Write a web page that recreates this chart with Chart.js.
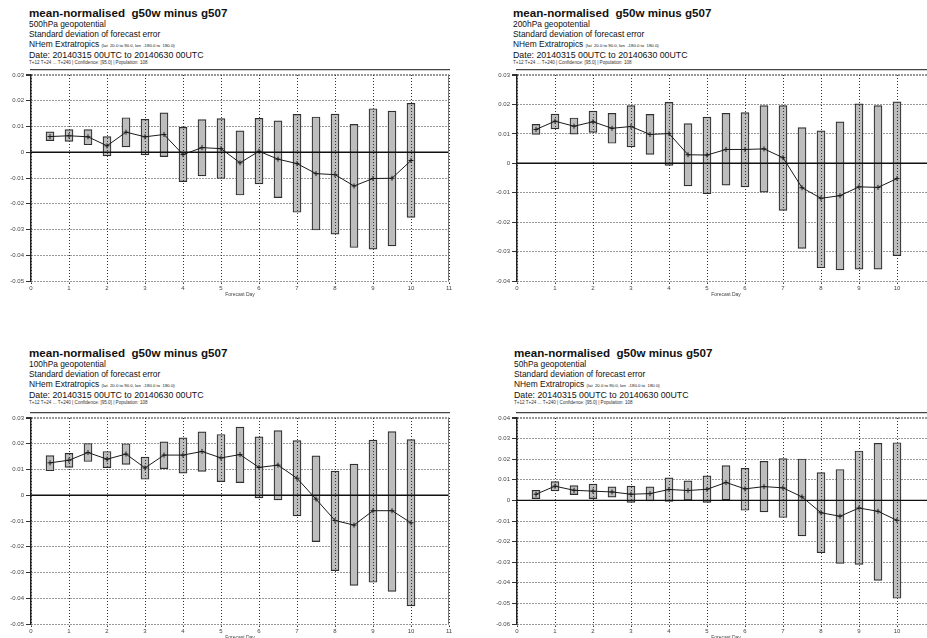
<!DOCTYPE html>
<html>
<head>
<meta charset="utf-8">
<script src="https://cdn.jsdelivr.net/npm/chart.js@4/dist/chart.umd.min.js"></script>
<style>
  html, body { margin: 0; padding: 0; background: #fff; width: 927px; height: 638px; overflow: hidden; }
  canvas { position: absolute; }
  .hdr { position: absolute; font-family: "Liberation Sans", Arial, sans-serif; color: #111; white-space: nowrap; }
  .hdr div { position: absolute; left: 0; white-space: nowrap; }
  .t1 { font-weight: bold; font-size: 11.6px; line-height: 14px; top: 6px; }
  .t2 { font-size: 8.4px; line-height: 10px; top: 19px; }
  .t3 { font-size: 8.4px; line-height: 10px; top: 29px; }
  .t4 { font-size: 8.4px; line-height: 10px; top: 39px; }
  .t4 small { font-size: 4.3px; }
  .t5 { font-size: 8.8px; line-height: 10px; top: 50px; }
  .t6 { font-size: 4.6px; line-height: 6px; top: 59.5px; color: #333; }
</style>
</head>
<body>

<script>
// Forecast day of each verification time (T+12 ... T+240)
const days = [0.5, 1, 1.5, 2, 2.5, 3, 3.5, 4, 4.5, 5, 5.5, 6, 6.5, 7, 7.5, 8, 8.5, 9, 9.5, 10];

// 500hPa geopotential: confidence interval bounds and mean normalised difference
const upper500 = [0.0079, 0.0088, 0.0088, 0.0061, 0.0134, 0.0128, 0.0153, 0.0097, 0.0127, 0.0131, 0.0083, 0.0132, 0.0122, 0.0147, 0.0137, 0.0148, 0.0108, 0.0169, 0.0160, 0.0190];
const lower500 = [0.0045, 0.0042, 0.0029, -0.0014, 0.0021, -0.0010, -0.0017, -0.0114, -0.0092, -0.0102, -0.0166, -0.0123, -0.0176, -0.0233, -0.0302, -0.0318, -0.0370, -0.0376, -0.0364, -0.0253];
const mean500  = [0.0061, 0.0064, 0.0060, 0.0025, 0.0078, 0.0060, 0.0069, -0.0009, 0.0018, 0.0014, -0.0041, 0.0004, -0.0027, -0.0044, -0.0083, -0.0087, -0.0131, -0.0102, -0.0101, -0.0032];

// 200hPa geopotential
const upper200 = [0.0132, 0.0167, 0.0154, 0.0177, 0.0170, 0.0196, 0.0166, 0.0207, 0.0135, 0.0157, 0.0170, 0.0172, 0.0196, 0.0196, 0.0121, 0.0110, 0.0141, 0.0202, 0.0196, 0.0209];
const lower200 = [0.0098, 0.0117, 0.0099, 0.0105, 0.0068, 0.0056, 0.0030, -0.0007, -0.0077, -0.0103, -0.0074, -0.0080, -0.0098, -0.0160, -0.0289, -0.0355, -0.0362, -0.0360, -0.0360, -0.0314];
const mean200  = [0.0115, 0.0143, 0.0126, 0.0141, 0.0119, 0.0125, 0.0098, 0.0101, 0.0029, 0.0028, 0.0047, 0.0047, 0.0049, 0.0019, -0.0083, -0.0119, -0.0110, -0.0080, -0.0082, -0.0052];

// 100hPa geopotential
const upper100 = [0.0154, 0.0163, 0.0201, 0.0170, 0.0200, 0.0148, 0.0207, 0.0223, 0.0246, 0.0236, 0.0265, 0.0227, 0.0251, 0.0212, 0.0153, 0.0094, 0.0121, 0.0214, 0.0247, 0.0216];
const lower100 = [0.0095, 0.0108, 0.0131, 0.0107, 0.0120, 0.0062, 0.0103, 0.0086, 0.0093, 0.0053, 0.0049, -0.0010, -0.0018, -0.0080, -0.0180, -0.0293, -0.0350, -0.0338, -0.0373, -0.0430];
const mean100  = [0.0126, 0.0136, 0.0166, 0.0140, 0.0160, 0.0106, 0.0156, 0.0156, 0.0170, 0.0145, 0.0158, 0.0108, 0.0117, 0.0066, -0.0015, -0.0098, -0.0116, -0.0060, -0.0060, -0.0107];

// 50hPa geopotential
const upper50 = [0.0049, 0.0091, 0.0072, 0.0079, 0.0066, 0.0069, 0.0066, 0.0109, 0.0095, 0.0119, 0.0169, 0.0156, 0.0190, 0.0203, 0.0201, 0.0135, 0.0150, 0.0240, 0.0277, 0.0280];
const lower50 = [0.0009, 0.0046, 0.0028, 0.0009, 0.0016, -0.0010, -0.0002, -0.0005, 0.0001, -0.0010, 0.0003, -0.0048, -0.0056, -0.0083, -0.0172, -0.0254, -0.0306, -0.0311, -0.0388, -0.0475];
const mean50  = [0.0030, 0.0069, 0.0049, 0.0045, 0.0041, 0.0030, 0.0033, 0.0053, 0.0048, 0.0054, 0.0087, 0.0056, 0.0067, 0.0061, 0.0017, -0.0060, -0.0077, -0.0037, -0.0053, -0.0097];

// Header text shared by every panel
const titleText = 'mean-normalised\u00a0\u00a0g50w minus g507';
const scoreText = 'Standard deviation of forecast error';
const areaText = 'NHem Extratropics';
const areaDetail = '(lat\u00a0\u00a020.0 to 90.0, lon\u00a0\u00a0-180.0 to\u00a0\u00a0180.0)';
const dateText = 'Date: 20140315 00UTC to 20140630 00UTC';
const stepsText = 'T+12 T+24 ... T+240 | Confidence: [95.0] | Population: 108';
const xTitle = 'Forecast Day';

const panels = [
  { level: '500hPa geopotential', upper: upper500, lower: lower500, mean: mean500, yMin: -0.05, yMax: 0.03, hx: 29,  hy: 0,   cx: 0,   cy: 69 },
  { level: '200hPa geopotential', upper: upper200, lower: lower200, mean: mean200, yMin: -0.04, yMax: 0.03, hx: 513, hy: 0,   cx: 486, cy: 69 },
  { level: '100hPa geopotential', upper: upper100, lower: lower100, mean: mean100, yMin: -0.05, yMax: 0.03, hx: 29,  hy: 340, cx: 0,   cy: 412 },
  { level: '50hPa geopotential',  upper: upper50,  lower: lower50,  mean: mean50,  yMin: -0.06, yMax: 0.04, hx: 514, hy: 340, cx: 486, cy: 412 }
];

// Solid zero reference line above the boxes, plus a thin solid right frame edge
const frameLines = {
  id: 'frameLines',
  afterDatasetsDraw(chart) {
    const { ctx, chartArea, scales } = chart;
    const y = scales.y.getPixelForValue(0);
    ctx.save();
    ctx.strokeStyle = '#111';
    ctx.lineWidth = 1.4;
    ctx.beginPath();
    ctx.moveTo(chartArea.left, y);
    ctx.lineTo(chartArea.right, y);
    ctx.stroke();
    ctx.strokeStyle = '#777';
    ctx.lineWidth = 1;
    ctx.beginPath();
    ctx.moveTo(chartArea.right - 0.5, chartArea.top);
    ctx.lineTo(chartArea.right - 0.5, chartArea.bottom);
    ctx.stroke();
    ctx.restore();
  }
};

const tickFont = { family: '"Liberation Sans", Arial, sans-serif', size: 6 };

function addHeader(p) {
  const h = document.createElement('div');
  h.className = 'hdr';
  h.style.left = p.hx + 'px';
  h.style.top = p.hy + 'px';
  const lines = [
    ['t1', titleText],
    ['t2', p.level],
    ['t3', scoreText],
    ['t4', areaText + ' '],
    ['t5', dateText],
    ['t6', stepsText]
  ];
  lines.forEach(([cls, txt]) => {
    const d = document.createElement('div');
    d.className = cls;
    d.textContent = txt;
    if (cls === 't4') {
      const s = document.createElement('small');
      s.textContent = areaDetail;
      d.appendChild(s);
    }
    h.appendChild(d);
  });
  document.body.appendChild(h);
}

function addChart(p) {
  const c = document.createElement('canvas');
  c.width = 460; c.height = 229;
  c.style.left = p.cx + 'px';
  c.style.top = p.cy + 'px';
  document.body.appendChild(c);

  new Chart(c, {
    data: {
      datasets: [
        {
          type: 'line',
          order: 0,
          data: days.map((d, i) => ({ x: d, y: p.mean[i] })),
          borderColor: '#1a1a1a',
          borderWidth: 1,
          pointStyle: 'cross',
          pointRadius: 2.5,
          pointBorderWidth: 1,
          pointBorderColor: '#1a1a1a',
          tension: 0
        },
        {
          type: 'bar',
          order: 1,
          data: days.map((d, i) => ({ x: d, y: [p.lower[i], p.upper[i]] })),
          backgroundColor: '#bdbdbd',
          borderColor: '#2e2e2e',
          borderWidth: 1.2,
          borderSkipped: false,
          barThickness: 8
        }
      ]
    },
    options: {
      responsive: false,
      animation: false,
      devicePixelRatio: 1,
      layout: { padding: { top: 6, right: 11, bottom: 0, left: 0 } },
      plugins: { legend: { display: false }, tooltip: { enabled: false } },
      scales: {
        x: {
          type: 'linear',
          offset: false,
          min: 0, max: 11,
          afterFit(s) { s.height = 17; },
          ticks: { stepSize: 1, font: tickFont, color: '#444', padding: 1, maxRotation: 0, autoSkip: false },
          grid: { offset: false, color: '#333', lineWidth: 1, z: 1, tickLength: 3, tickColor: '#333', tickBorderDash: [] },
          border: { display: true, color: '#444', width: 2.5, dash: [1, 2] },
          title: { display: true, text: xTitle, font: { family: '"Liberation Sans", Arial, sans-serif', size: 5 }, color: '#444', padding: 0 }
        },
        y: {
          min: p.yMin, max: p.yMax,
          afterFit(s) { s.width = 31; },
          ticks: {
            stepSize: 0.01, font: tickFont, color: '#444', padding: 2,
            callback: (v) => Math.abs(v) < 1e-9 ? '0' : v.toFixed(2)
          },
          grid: {
            color: '#333',
            lineWidth: (ctx) => (ctx.tick && Math.abs(ctx.tick.value - p.yMax) < 1e-9) ? 2 : 1,
            tickLength: 5, tickColor: '#333', tickBorderDash: []
          },
          border: { display: true, color: '#222', width: 1.5, dash: [1, 2] }
        }
      }
    },
    plugins: [frameLines]
  });
}

panels.forEach((p) => { addHeader(p); addChart(p); });
</script>
</body>
</html>
